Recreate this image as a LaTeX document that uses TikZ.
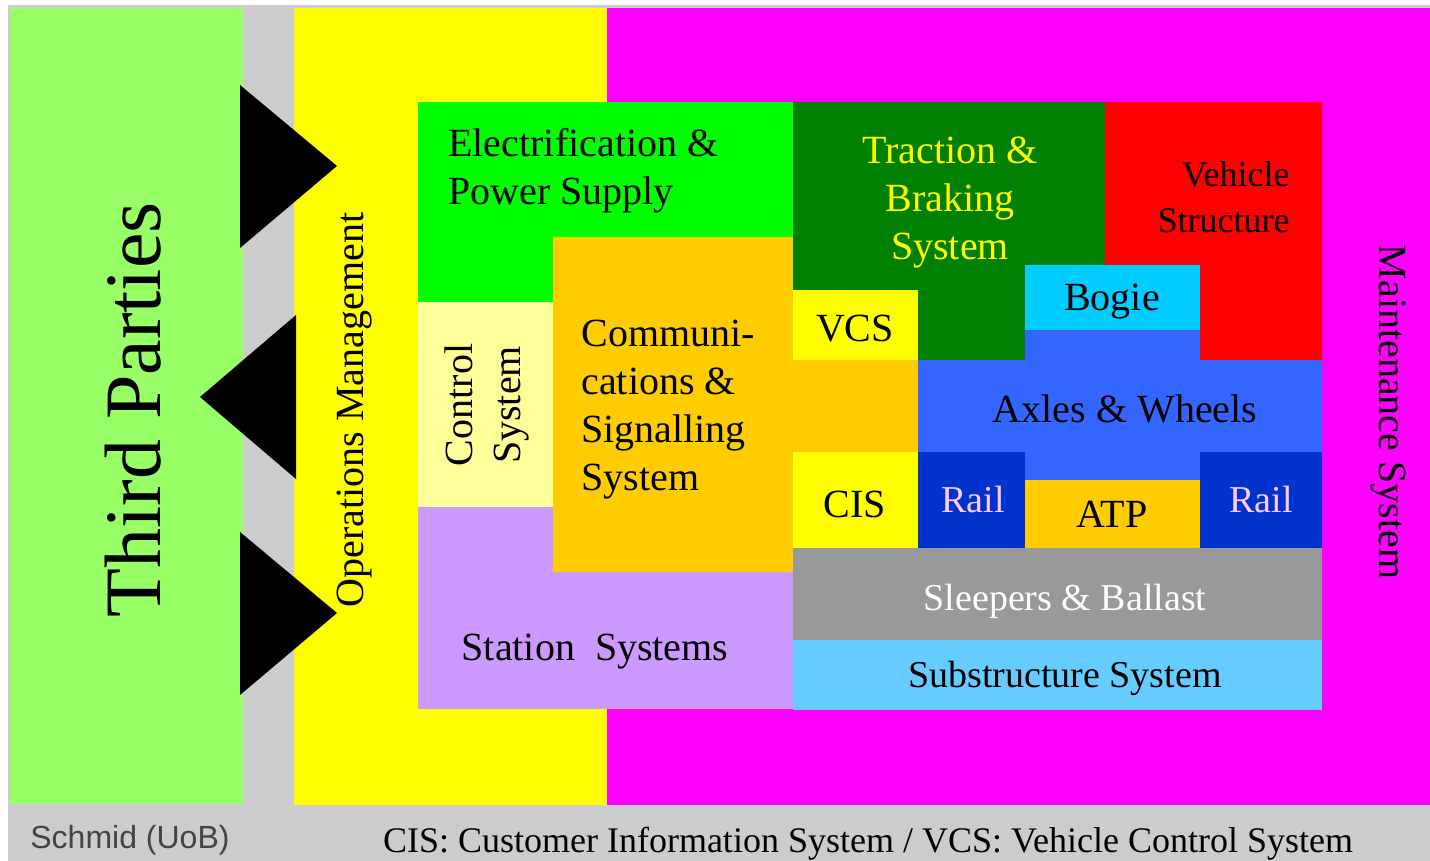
\documentclass[tikz,border=0pt]{standalone}
\usepackage{fontspec}
\setmainfont{Liberation Serif}
\newfontfamily\creditfont{Liberation Sans}

\definecolor{bggray}{HTML}{CCCCCC}
\definecolor{partygreen}{HTML}{99FF66}
\definecolor{opsyellow}{HTML}{FFFF00}
\definecolor{maintmagenta}{HTML}{FF00FF}
\definecolor{powergreen}{HTML}{00FF00}
\definecolor{ctrlyellow}{HTML}{FFFF99}
\definecolor{commorange}{HTML}{FFCC00}
\definecolor{stationlilac}{HTML}{CC99FF}
\definecolor{tractiongreen}{HTML}{008000}
\definecolor{vehiclered}{HTML}{FF0000}
\definecolor{bogiecyan}{HTML}{00CCFF}
\definecolor{axleblue}{HTML}{3366FF}
\definecolor{railblue}{HTML}{0033CC}
\definecolor{railtext}{HTML}{FFCCFF}
\definecolor{ballastgray}{HTML}{999999}
\definecolor{subblue}{HTML}{66CCFF}
\definecolor{creditgray}{HTML}{444444}

\tikzset{
  lbl/.style={inner sep=0pt, align=center, font=\fontsize{20}{24}\selectfont},
  smalllbl/.style={lbl, font=\fontsize{19}{23}\selectfont},
}

\begin{document}
\begin{tikzpicture}[x=0.5pt,y=-0.5pt]
        \useasboundingbox (0,0) rectangle (1430,861);
        \fill[bggray] (8,5) rectangle (1430,861);

        % outer bands
        \fill[partygreen] (10,8) rectangle (243,804);
        \fill[opsyellow] (294,8) rectangle (607,805);
        \fill[maintmagenta] (607,8) rectangle (1430,805);

        \fill (240,85) -- (337,166) -- (240,248) -- cycle;
        \fill (296,315) -- (200,397) -- (296,479) -- cycle;
        \fill (240,532) -- (337,613) -- (240,695) -- cycle;

        % infrastructure side
        \fill[powergreen] (418,102) rectangle (793,302);
        \fill[stationlilac] (418,507) rectangle (793,709);
        \fill[ctrlyellow] (418,302) rectangle (553,507);
        \fill[commorange] (553,237) rectangle (793,572);
        \fill[commorange] (793,290) rectangle (918,548);

        % vehicle and track side
        \fill[tractiongreen] (793,102) rectangle (1105,360);
        \fill[vehiclered] (1105,102) rectangle (1322,360);
        \fill[axleblue] (918,360) rectangle (1322,452);
        \fill[axleblue] (1025,330) rectangle (1200,480);
        \fill[bogiecyan] (1025,265) rectangle (1200,330);
        \fill[opsyellow] (793,290) rectangle (918,360);
        \fill[opsyellow] (793,452) rectangle (918,548);
        \fill[railblue] (918,452) rectangle (1025,548);
        \fill[railblue] (1200,452) rectangle (1322,548);
        \fill[commorange] (1025,480) rectangle (1200,548);
        \fill[ballastgray] (793,548) rectangle (1322,640);
        \fill[subblue] (793,640) rectangle (1322,710);

        \node[lbl, rotate=90, font=\fontsize{40}{48}\selectfont] (third) at (133,410) {Third Parties};
        \node[lbl, rotate=90] (ops) at (355,410) {Operations Management};
        \node[lbl, rotate=-90] (maint) at (1388,412) {Maintenance System};

        \node[lbl, align=left, anchor=west] (power) at (448,171) {Electrification \&\\Power Supply};
        \node[lbl, rotate=90] (ctrl) at (487,405) {Control\\System};
        \node[lbl, align=left, anchor=west] (comm) at (581,410) {Communi-\\cations \&\\Signalling\\System};
        \node[lbl] (station) at (595,652) {Station~~Systems};

        \node[lbl, text=opsyellow] (traction) at (950,203) {Traction \&\\Braking\\System};
        \node[lbl, align=right, anchor=east, font=\fontsize{18}{23}\selectfont] (vehicle) at (1290,197) {Vehicle\\Structure};
        \node[lbl] (vcs) at (855,329) {VCS};
        \node[lbl] (bogie) at (1112,302) {Bogie};
        \node[lbl] (axles) at (1125,409) {Axles \& Wheels};
        \node[lbl] (cis) at (855,504) {CIS};
        \node[smalllbl, text=railtext] (railL) at (973,500) {Rail};
        \node[smalllbl, text=railtext] (railR) at (1261,500) {Rail};
        \node[lbl] (atp) at (1112,514) {ATP};
        \node[smalllbl, text=white] (ballast) at (1065,601) {Sleepers \& Ballast};
        \node[smalllbl] (subst) at (1065,678) {Substructure System};

        \node[inner sep=0pt, anchor=base west, text=creditgray, font=\creditfont\fontsize{16}{19}\selectfont] (credit) at (30,848) {Schmid (UoB)};
        \node[inner sep=0pt, anchor=base, font=\fontsize{18}{22}\selectfont] (abbrev) at (868,852) {CIS: Customer Information System / VCS: Vehicle Control System};
\end{tikzpicture}
\end{document}
